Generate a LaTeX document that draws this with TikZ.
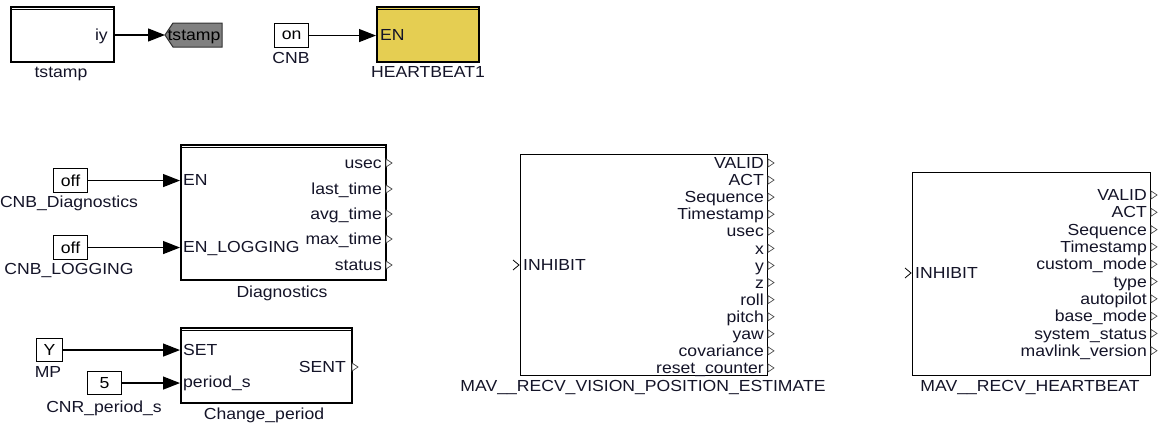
\documentclass[tikz,border=0pt]{standalone}
\usepackage{fontspec}
\setmainfont{Liberation Sans}[FakeStretch=1.1]
\usetikzlibrary{arrows.meta,calc}
\definecolor{blockyellow}{RGB}{229,206,82}
\definecolor{tagGray}{RGB}{128,128,128}
\definecolor{txt}{RGB}{20,20,40}
\tikzset{
  blk/.style={draw=black, line width=1.6pt, fill=white, inner sep=0pt},
  cbox/.style={draw=black, line width=1.1pt, fill=white, inner sep=0pt, font=\fontsize{16}{16}\selectfont},
  lbl/.style={inner sep=0pt, text=txt, yshift=-3pt, font=\fontsize{16}{16}\selectfont},
  wire/.style={line width=1.3pt, -{Triangle[length=17pt,width=13pt]}},
  outport/.style={draw=black!70, line width=0.7pt, fill=white},
  inport/.style={draw=black, line width=0.8pt},
  topline/.style={line width=1pt}
}
\newcommand{\outp}[1]{\draw[outport] ($(#1)+(1,-4)$) -- ($(#1)+(7,0)$) -- ($(#1)+(1,4)$) -- cycle;}
\begin{document}
\begin{tikzpicture}[x=1pt,y=-1pt]
\useasboundingbox (0,0) rectangle (1162,423);

% ---------- tstamp subsystem and its goto tag ----------
\node[blk, minimum width=103pt, minimum height=55pt, anchor=north west] (ts) at (10,6) {};
\draw[topline] (10,9.5) -- (113,9.5);
\node[lbl, anchor=mid east] (tsiy) at (108,35) {iy};
\node[lbl, anchor=mid] (tsname) at (61,72) {tstamp};
\coordinate (gototip) at (165,35);
\draw[fill=tagGray, draw=black!80, line width=1pt]
  (gototip) -- (173,23) -- (222,23) -- (222,47) -- (173,47) -- cycle;
\node[lbl, anchor=mid, text=black] (gototxt) at (194,35) {tstamp};
\draw[wire] (ts.east |- gototip) -- (gototip);

% ---------- CNB constant and HEARTBEAT1 ----------
\node[cbox, minimum width=34pt, minimum height=24pt, anchor=north west] (cnb) at (274,23) {on};
\node[lbl, anchor=mid] (cnbname) at (291,58) {CNB};
\node[blk, fill=blockyellow, minimum width=102pt, minimum height=55pt, anchor=north west] (hb1) at (376,6) {};
\draw[topline] (376,9.5) -- (478,9.5);
\node[lbl, anchor=mid west] (hb1en) at (380,35) {EN};
\node[lbl, anchor=mid] (hb1name) at (428,72) {HEARTBEAT1};
\draw[wire] (cnb.east) -- (cnb.east -| hb1.west);

% ---------- Diagnostics ----------
\node[blk, minimum width=205pt, minimum height=135pt, anchor=north west] (diag) at (180,144) {};
\draw[topline] (180,147.5) -- (385,147.5);
\node[lbl, anchor=mid] (diagname) at (282,292) {Diagnostics};
\node[cbox, minimum width=34pt, minimum height=24pt, anchor=north west] (cdiag) at (53,168) {off};
\node[lbl, anchor=mid] (cdiagname) at (69,202) {CNB\_Diagnostics};
\node[cbox, minimum width=34pt, minimum height=24pt, anchor=north west] (clog) at (53,235) {off};
\node[lbl, anchor=mid] (clogname) at (69,269) {CNB\_LOGGING};
\draw[wire] (cdiag.east) -- (cdiag.east -| diag.west);
\draw[wire] (clog.east) -- (clog.east -| diag.west);
\node[lbl, anchor=mid west] (diagen) at (183,180) {EN};
\node[lbl, anchor=mid west] (diaglog) at (183,247) {EN\_LOGGING};
\foreach \nm/\yy in {usec/163, last\_time/189, avg\_time/214, max\_time/239, status/265}{
  \node[lbl, anchor=mid east] at (382,\yy) {\nm};
  \outp{385,\yy}
}

% ---------- Change_period ----------
\node[blk, minimum width=171pt, minimum height=75pt, anchor=north west] (chg) at (180,327) {};
\draw[topline] (180,330.5) -- (351,330.5);
\node[lbl, anchor=mid] (chgname) at (264,414) {Change\_period};
\node[cbox, minimum width=26pt, minimum height=23pt, anchor=north west] (cmp) at (36,338) {Y};
\node[lbl, anchor=mid] (cmpname) at (48,372) {MP};
\node[cbox, minimum width=34pt, minimum height=23pt, anchor=north west] (cper) at (87,371) {5};
\node[lbl, anchor=mid] (cpername) at (104,407) {CNR\_period\_s};
\draw[wire] (cmp.east) -- (cmp.east -| chg.west);
\draw[wire] (cper.east) -- (cper.east -| chg.west);
\node[lbl, anchor=mid west] (chgset) at (183,350) {SET};
\node[lbl, anchor=mid west] (chgper) at (183,382) {period\_s};
\node[lbl, anchor=mid east] (chgsent) at (346,367) {SENT};
\outp{351,367}

% ---------- MAV__RECV_VISION_POSITION_ESTIMATE ----------
\node[blk, line width=1.4pt, minimum width=247pt, minimum height=221pt, anchor=north west] (vis) at (520,154) {};
\node[lbl, anchor=mid] (visname) at (643,386) {MAV\_\_RECV\_VISION\_POSITION\_ESTIMATE};
\node[lbl, anchor=mid west] (visinh) at (523,265) {INHIBIT};
\draw[inport] (513,260) -- (519,265) -- (513,270);
\foreach \nm [count=\i from 0] in {VALID, ACT, Sequence, Timestamp, usec, x, y, z, roll, pitch, yaw, covariance, reset\_counter}{
  \pgfmathsetmacro{\yy}{163+\i*17.08}
  \node[lbl, anchor=mid east] at (764,\yy) {\nm};
  \outp{767,\yy}
}

% ---------- MAV__RECV_HEARTBEAT ----------
\node[blk, line width=1.4pt, minimum width=238pt, minimum height=203pt, anchor=north west] (hbt) at (912,172) {};
\node[lbl, anchor=mid] (hbtname) at (1030,386) {MAV\_\_RECV\_HEARTBEAT};
\node[lbl, anchor=mid west] (hbtinh) at (915,273) {INHIBIT};
\draw[inport] (905,268) -- (911,273) -- (905,278);
\foreach \nm [count=\i from 0] in {VALID, ACT, Sequence, Timestamp, custom\_mode, type, autopilot, base\_mode, system\_status, mavlink\_version}{
  \pgfmathsetmacro{\yy}{195+\i*17.3}
  \node[lbl, anchor=mid east] at (1147,\yy) {\nm};
  \outp{1150,\yy}
}
\end{tikzpicture}
\end{document}
